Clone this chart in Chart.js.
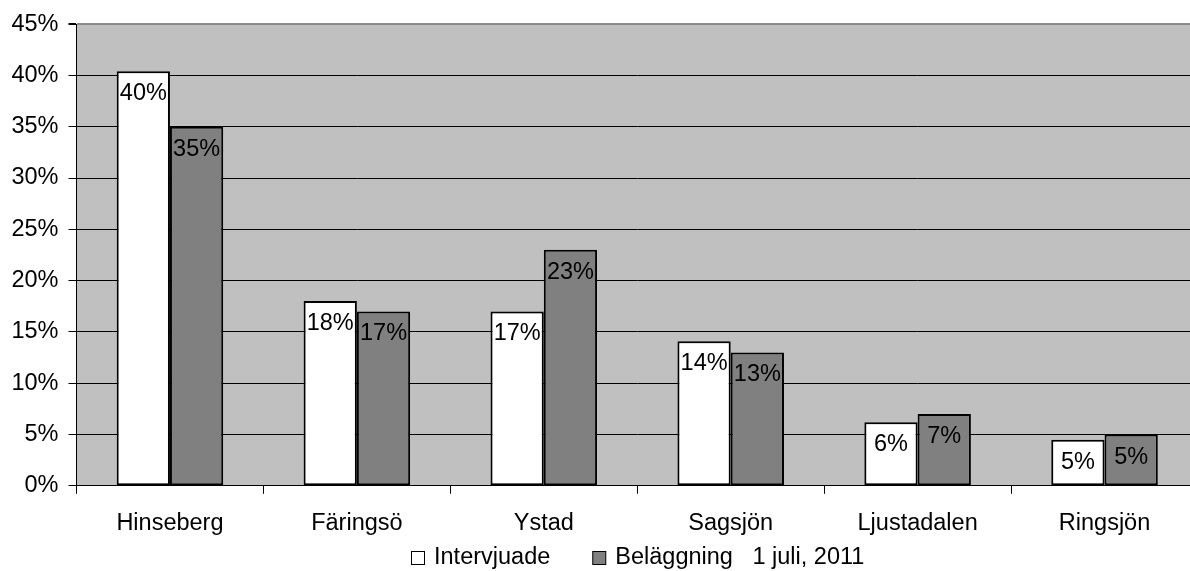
<!DOCTYPE html>
<html lang="sv">
<head>
<meta charset="utf-8">
<title>Intervjuade och beläggning per anstalt</title>
<script src="https://cdn.jsdelivr.net/npm/chart.js@4/dist/chart.umd.min.js"></script>
<style>
  html, body { margin: 0; padding: 0; background: #ffffff; overflow: hidden; }
  #wrap { width: 1198px; height: 571px; }
</style>
</head>
<body>
<div id="wrap"><canvas id="chart" width="1198" height="571"></canvas></div>
<script>
// Anstalter (x-axis categories)
const categories = ['Hinseberg', 'Färingsö', 'Ystad', 'Sagsjön', 'Ljustadalen', 'Ringsjön'];

// Share of interviewed inmates per institution (%)
const intervjuade = [40.4, 18.0, 17.0, 14.1, 6.2, 4.5];

// Share of occupancy on 1 July 2011 per institution (%)
const belaggning = [35.0, 17.0, 23.0, 13.0, 7.0, 5.0];

// Series names
const seriesNames = ['Intervjuade', 'Beläggning   1 juli, 2011'];

// Value-axis ticks (%)
const yTicks = [0, 5, 10, 15, 20, 25, 30, 35, 40, 45];

const FONT = { family: '"Liberation Sans", Arial, "DejaVu Sans", sans-serif', size: 23.5 };

// Grey plot background
const plotBackground = {
  id: 'plotBackground',
  beforeDraw(chart) {
    const { ctx, chartArea: a } = chart;
    ctx.save();
    ctx.fillStyle = '#c0c0c0';
    ctx.fillRect(a.left, a.top, a.right - a.left, a.bottom - a.top);
    ctx.restore();
  }
};

// Percentage labels inside the top of each bar
const barLabels = {
  id: 'barLabels',
  afterDatasetsDraw(chart) {
    const { ctx } = chart;
    ctx.save();
    ctx.font = `${FONT.size}px ${FONT.family}`;
    ctx.fillStyle = '#000000';
    ctx.textAlign = 'center';
    ctx.textBaseline = 'alphabetic';
    chart.data.datasets.forEach((ds, di) => {
      const meta = chart.getDatasetMeta(di);
      meta.data.forEach((bar, i) => {
        const text = Math.round(ds.data[i]) + '%';
        ctx.fillText(text, bar.x, bar.y + 29);
      });
    });
    ctx.restore();
  }
};

// Legend row under the category labels
const bottomLegend = {
  id: 'bottomLegend',
  afterDraw(chart) {
    const { ctx, chartArea: a } = chart;
    const box = 13, gap = 10, itemGap = 42;
    ctx.save();
    ctx.font = `${FONT.size}px ${FONT.family}`;
    const items = chart.data.datasets.map(ds => ({
      text: ds.label, fill: ds.backgroundColor, w: ctx.measureText(ds.label).width
    }));
    const total = items.reduce((s, it) => s + box + gap + it.w, 0) + itemGap * (items.length - 1);
    let x = Math.round((a.left + a.right) / 2 - total / 2);
    const y = chart.height - 14;
    items.forEach(it => {
      ctx.fillStyle = it.fill;
      ctx.fillRect(x + 0.5, Math.round(y - box / 2) + 0.5, box, box);
      ctx.strokeStyle = '#000000';
      ctx.lineWidth = 1;
      ctx.strokeRect(x + 0.5, Math.round(y - box / 2) + 0.5, box, box);
      ctx.fillStyle = '#000000';
      ctx.textAlign = 'left';
      ctx.textBaseline = 'middle';
      ctx.fillText(it.text, x + box + gap, y + 1);
      x += box + gap + it.w + itemGap;
    });
    ctx.restore();
  }
};

new Chart(document.getElementById('chart'), {
  type: 'bar',
  data: {
    labels: categories,
    datasets: [
      {
        label: seriesNames[0],
        data: intervjuade,
        backgroundColor: '#ffffff',
        borderColor: '#000000',
        borderWidth: 2,
        borderSkipped: false
      },
      {
        label: seriesNames[1],
        data: belaggning,
        backgroundColor: '#808080',
        borderColor: '#000000',
        borderWidth: 2,
        borderSkipped: false
      }
    ]
  },
  options: {
    responsive: false,
    animation: false,
    devicePixelRatio: 1,
    datasets: { bar: { barPercentage: 1.0, categoryPercentage: 0.57 } },
    layout: { padding: { top: 24, left: 0, right: 0, bottom: 17 } },
    plugins: {
      legend: { display: false },
      tooltip: { enabled: false },
      title: { display: false }
    },
    scales: {
      x: {
        offset: true,
        grid: {
          offset: true,
          drawOnChartArea: false,
          drawTicks: true,
          tickLength: 8,
          tickColor: '#000000'
        },
        border: { color: '#000000', width: 1 },
        ticks: { font: FONT, color: '#000000', padding: 16, maxRotation: 0, autoSkip: false }
      },
      y: {
        min: yTicks[0],
        max: yTicks[yTicks.length - 1],
        afterBuildTicks(scale) { scale.ticks = yTicks.map(v => ({ value: v })); },
        afterFit(scale) { scale.width = 76.5; },
        grid: {
          color: c => (c.tick && c.tick.value === yTicks[yTicks.length - 1]) ? '#8a8a8a' : '#000000',
          lineWidth: c => (c.tick && c.tick.value === yTicks[yTicks.length - 1]) ? 2 : 1,
          tickLength: 8,
          tickColor: '#000000',
          drawTicks: true
        },
        border: { color: '#000000', width: 1 },
        ticks: {
          font: FONT,
          color: '#000000',
          padding: 10,
          callback: v => v + '%'
        }
      }
    }
  },
  plugins: [plotBackground, barLabels, bottomLegend]
});
</script>
</body>
</html>
